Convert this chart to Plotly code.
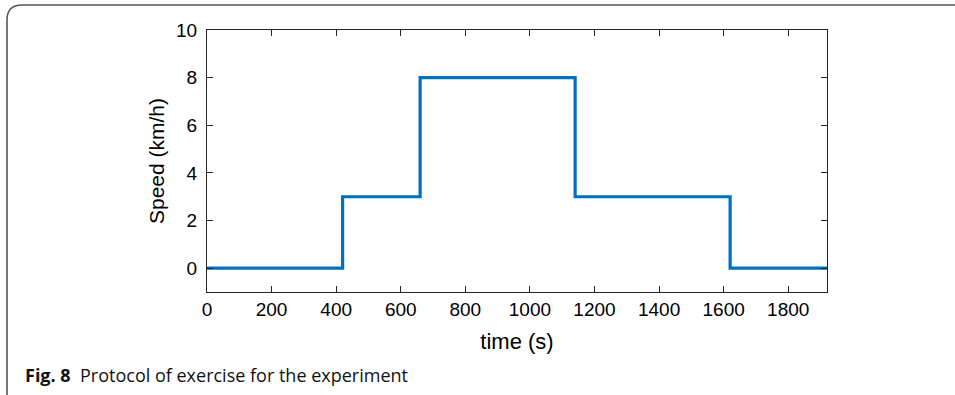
import plotly.graph_objects as go

# Treadmill speed protocol: (start time in s, speed in km/h) for each stage
stage_start = [0, 420, 660, 1140, 1620]
stage_speed = [0, 3, 8, 3, 0]
t_end = 1920

x_ticks = [0, 200, 400, 600, 800, 1000, 1200, 1400, 1600, 1800]
y_ticks = [0, 2, 4, 6, 8, 10]

# stepped line: hold each speed until the next stage begins
xs, ys = [], []
bounds = stage_start[1:] + [t_end]
for s, e, v in zip(stage_start, bounds, stage_speed):
    xs += [s, e]
    ys += [v, v]

W, H = 955, 395
L, R, T, B = 207, 827, 30, 292


def px(x):
    return (x - L) / (R - L)


def py(y):
    return (B - y) / (B - T)


FONT = "Liberation Sans, Arial, sans-serif"

fig = go.Figure()
fig.add_trace(go.Scatter(x=xs, y=ys, mode="lines",
                         line=dict(color="#0072BD", width=3.2),
                         hoverinfo="skip"))

axis_common = dict(
    showgrid=False, zeroline=False, showline=True, mirror="ticks",
    linecolor="#262626", linewidth=1, ticks="inside", ticklen=6,
    tickwidth=1, tickcolor="#262626",
    tickfont=dict(family=FONT, size=19, color="#000"),
)

fig.update_xaxes(range=[0, t_end], tickvals=x_ticks, ticklabelstandoff=0,
                 title=dict(text="time (s)", standoff=14,
                            font=dict(family=FONT, size=22, color="#000")),
                 **axis_common)
fig.update_yaxes(range=[-1, 10], tickvals=y_ticks, ticklabelstandoff=5,
                 title=dict(text="Speed (km/h)", standoff=5,
                            font=dict(family=FONT, size=21, color="#000")),
                 **axis_common)

# rounded caption frame
r = 15
x0, y0 = 7, 5
path = (f"M {px(x0)} {py(H + 20)} L {px(x0)} {py(y0 + r)} "
        f"Q {px(x0)} {py(y0)} {px(x0 + r)} {py(y0)} L {px(W + 20)} {py(y0)}")
fig.add_shape(type="path", path=path, xref="paper", yref="paper",
              line=dict(color="#555555", width=1.6))

fig.add_annotation(
    x=px(23), y=py(375), xref="paper", yref="paper", xanchor="left", yanchor="middle",
    showarrow=False,
    text="<b>Fig. 8</b>&nbsp;&nbsp;Protocol of exercise for the experiment",
    font=dict(family="Open Sans, Noto Sans, sans-serif", size=18, color="#111"),
)

fig.update_layout(
    width=W, height=H, autosize=False,
    margin=dict(l=L, r=W - R, t=T, b=H - B),
    paper_bgcolor="white", plot_bgcolor="white",
    showlegend=False,
)

fig.write_html("out.html")
